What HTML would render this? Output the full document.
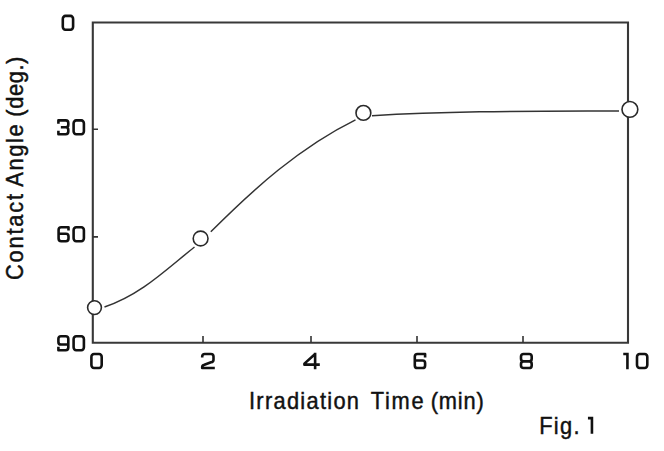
<!DOCTYPE html>
<html><head><meta charset="utf-8">
<style>
html,body{margin:0;padding:0;background:#fff;width:664px;height:451px;overflow:hidden}
svg{display:block}
text{font-family:"Liberation Sans",sans-serif;fill:#111}
</style></head>
<body>
<svg width="664" height="451" viewBox="0 0 664 451">
<rect width="664" height="451" fill="#fff"/>
<g fill="none" stroke="#383838" stroke-width="2.1">
<path d="M92.8 22.5 H628 V342.8 H92.8 Z"/>
</g>
<g stroke="#333" stroke-width="1.6">
<path d="M203 342.8 V336 M311 342.8 V336 M417 342.8 V336 M523 342.8 V336"/>
<path d="M92.5 129.3 H98 M92.5 236.9 H98"/>
</g>
<path fill="none" stroke="#333" stroke-width="1.5" d="M104.5 307 C141.4 294.5 166.1 269.5 194.5 247 M210.8 231.8 C254.2 188.3 300.0 147.2 355.5 119.8 M372.0 115.8 C453.6 110.8 537.2 111.3 619.0 111.0"/>
<g fill="#fff" stroke="#2a2a2a" stroke-width="1.6">
<circle cx="94.5" cy="307.6" r="6.9"/>
<circle cx="200.6" cy="238.5" r="7.4"/>
<circle cx="363.4" cy="112.9" r="7.4"/>
<circle cx="629.9" cy="109.4" r="7.9"/>
</g>
<g stroke="#111" stroke-width="0.45">
<text transform="translate(248.99 409.2) scale(0.95 1)" font-size="23" letter-spacing="1.354">Irradiation</text>
<text transform="translate(370.72 409.2) scale(0.95 1)" font-size="23" letter-spacing="1.789">Time</text>
<text transform="translate(430.75 409.2) scale(0.95 1)" font-size="23" letter-spacing="0.857">(min)</text>
<text transform="translate(539.21 434) scale(0.95 1)" font-size="23" letter-spacing="1.388">Fig.</text>
<text transform="translate(23.1 280.11) rotate(-90) scale(0.95 1)" font-size="23" letter-spacing="1.925">Contact</text>
<text transform="translate(23.1 186.64) rotate(-90) scale(0.95 1)" font-size="23" letter-spacing="1.720">Angle</text>
<text transform="translate(23.1 116.65) rotate(-90) scale(0.95 1)" font-size="23" letter-spacing="0.618">(deg.)</text>
</g><g fill="none" stroke="#111" stroke-width="2.6" stroke-linejoin="round">
<g transform="translate(61.50 14.60)"><rect x="1.30" y="1.30" width="10.30" height="13.80" rx="2.6" ry="3.0"/></g>
<g transform="translate(57.10 119.10)"><path d="M1.30 4.70 V1.30 H8.60 Q11.20 1.30 11.20 3.90 V5.60 Q11.20 8.20 8.60 8.20 H3.75 M8.60 8.20 Q11.20 8.20 11.20 10.80 V12.50 Q11.20 15.10 8.60 15.10 H1.30 V11.70"/></g>
<g transform="translate(72.30 119.10)"><rect x="1.30" y="1.30" width="10.30" height="13.80" rx="2.6" ry="3.0"/></g>
<g transform="translate(57.30 225.90)"><path d="M11.20 4.70 V1.30 H3.90 Q1.30 1.30 1.30 3.90 V12.70 Q1.30 15.30 3.90 15.30 H8.60 Q11.20 15.30 11.20 12.70 V10.40 Q11.20 7.80 8.60 7.80 H1.30"/></g>
<g transform="translate(72.30 225.90)"><rect x="1.30" y="1.30" width="10.30" height="14.00" rx="2.6" ry="3.0"/></g>
<g transform="translate(57.10 334.90)"><path d="M1.30 11.90 V15.30 H8.60 Q11.20 15.30 11.20 12.70 V3.90 Q11.20 1.30 8.60 1.30 H3.90 Q1.30 1.30 1.30 3.90 V7.03 Q1.30 9.63 3.90 9.63 H11.20"/></g>
<g transform="translate(72.30 334.90)"><rect x="1.30" y="1.30" width="10.30" height="14.00" rx="2.6" ry="3.0"/></g>
<g transform="translate(90.10 352.70)"><rect x="1.30" y="1.30" width="10.30" height="14.00" rx="2.6" ry="3.0"/></g>
<g transform="translate(200.90 352.70)"><path d="M1.30 4.90 V3.90 Q1.30 1.30 3.90 1.30 H10.00 Q12.60 1.30 12.60 3.90 V6.97 Q12.60 9.13 10.10 9.63 L3.50 11.95 Q1.30 12.62 1.30 14.28 V15.30 H13.90"/></g>
<g transform="translate(303.10 352.70)"><path d="M12.02 1.30 L1.30 10.95 V11.95 H16.70 M12.02 0 V16.60"/></g>
<g transform="translate(413.50 352.70)"><path d="M11.60 4.70 V1.30 H3.90 Q1.30 1.30 1.30 3.90 V12.70 Q1.30 15.30 3.90 15.30 H9.00 Q11.60 15.30 11.60 12.70 V10.40 Q11.60 7.80 9.00 7.80 H1.30"/></g>
<g transform="translate(519.70 352.70)"><path d="M3.90 1.30 H9.40 Q12.00 1.30 12.00 3.90 V6.03 Q12.00 8.63 9.40 8.63 H3.90 Q1.30 8.63 1.30 6.03 V3.90 Q1.30 1.30 3.90 1.30 Z M9.40 8.63 Q12.00 8.63 12.00 11.23 V12.70 Q12.00 15.30 9.40 15.30 H3.90 Q1.30 15.30 1.30 12.70 V11.23 Q1.30 8.63 3.90 8.63"/></g>
<g transform="translate(622.90 352.70)"><path d="M4.53 0 V16.60 M0.36 1.30 H4.53"/></g>
<g transform="translate(635.70 352.70)"><rect x="1.30" y="1.30" width="10.30" height="14.00" rx="2.6" ry="3.0"/></g>
<g transform="translate(587.60 416.80)"><path d="M4.34 0 V17.00 M0.35 1.30 H4.34"/></g>
</g>
</svg>
</body></html>
